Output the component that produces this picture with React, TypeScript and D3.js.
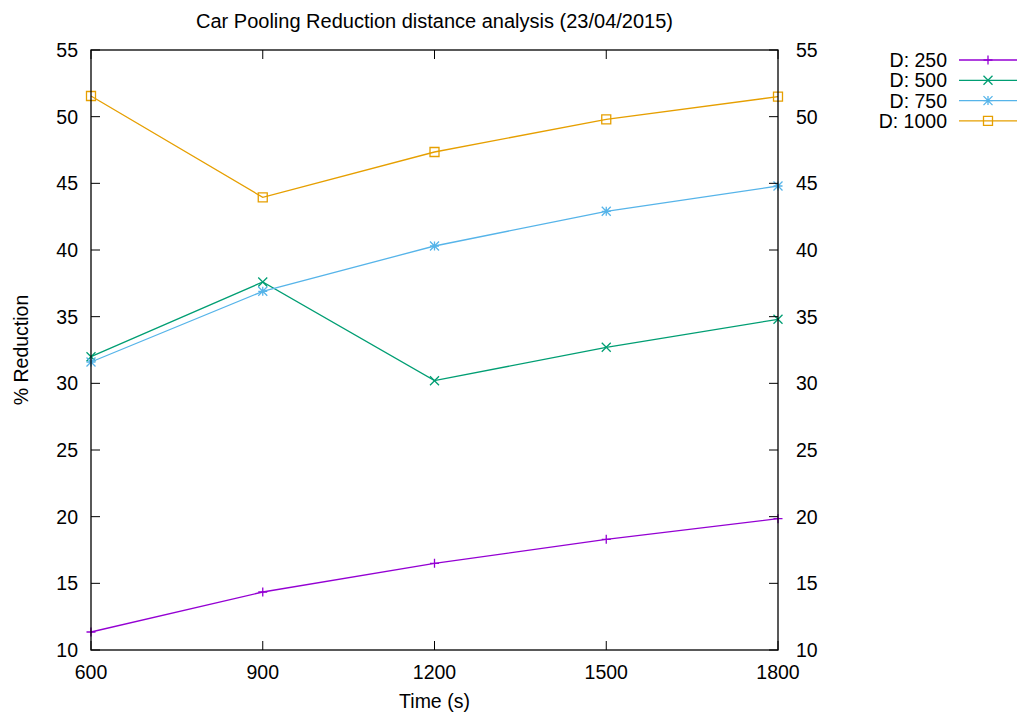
import React, { useEffect, useRef } from 'react';
import * as d3 from 'd3';

const times = [600, 900, 1200, 1500, 1800];
const d250 = [11.35, 14.35, 16.5, 18.3, 19.85];
const d500 = [32.0, 37.6, 30.2, 32.7, 34.8];
const d750 = [31.6, 36.9, 40.3, 42.9, 44.8];
const d1000 = [51.55, 43.95, 47.35, 49.8, 51.5];
const seriesNames = ['D: 250', 'D: 500', 'D: 750', 'D: 1000'];
const seriesColors = ['#9400d3', '#009e73', '#56b4e9', '#e69f00'];
const yTicks = [10, 15, 20, 25, 30, 35, 40, 45, 50, 55];

const W = 1019;
const H = 713;
const margin = { left: 91, right: 778, top: 50, bottom: 650 };
const FONT = '"Liberation Sans", Arial, sans-serif';

type Shape = 'plus' | 'cross' | 'star' | 'square';
const shapes: Shape[] = ['plus', 'cross', 'star', 'square'];

function markerPath(shape: Shape, x: number, y: number) {
  const s = 4.5;
  if (shape === 'plus') return `M${x - s},${y}H${x + s}M${x},${y - s}V${y + s}`;
  if (shape === 'cross') return `M${x - s},${y - s}L${x + s},${y + s}M${x - s},${y + s}L${x + s},${y - s}`;
  if (shape === 'star')
    return `M${x - s},${y}H${x + s}M${x},${y - s}V${y + s}M${x - s},${y - s}L${x + s},${y + s}M${x - s},${y + s}L${x + s},${y - s}`;
  return `M${x - s},${y - s}H${x + s}V${y + s}H${x - s}Z`;
}

export default function App() {
  const svgRef = useRef<SVGSVGElement>(null);

  useEffect(() => {
    const svg = d3.select(svgRef.current);
    svg.selectAll('*').remove();

    const x = d3.scaleLinear().domain([600, 1800]).range([margin.left, margin.right]);
    const y = d3.scaleLinear().domain([10, 55]).range([margin.bottom, margin.top]);

    svg.append('rect').attr('width', W).attr('height', H).attr('fill', 'white');

    const all = [d250, d500, d750, d1000];

    // series
    all.forEach((vals, i) => {
      const pts = vals.map((v, j) => [x(times[j]), y(v)] as [number, number]);
      svg
        .append('path')
        .attr('d', d3.line()(pts))
        .attr('fill', 'none')
        .attr('stroke', seriesColors[i])
        .attr('stroke-width', 1.3);
      pts.forEach(p => {
        svg
          .append('path')
          .attr('d', markerPath(shapes[i], p[0], p[1]))
          .attr('fill', 'none')
          .attr('stroke', seriesColors[i])
          .attr('stroke-width', 1.3);
      });
    });

    // ticks
    const tk = 9;
    const axis = svg.append('g').attr('stroke', 'black').attr('stroke-width', 1);
    yTicks.forEach(t => {
      axis.append('line').attr('x1', margin.left).attr('x2', margin.left + tk).attr('y1', y(t)).attr('y2', y(t));
      axis.append('line').attr('x1', margin.right).attr('x2', margin.right - tk).attr('y1', y(t)).attr('y2', y(t));
    });
    times.forEach(t => {
      axis.append('line').attr('x1', x(t)).attr('x2', x(t)).attr('y1', margin.bottom).attr('y2', margin.bottom - tk);
      axis.append('line').attr('x1', x(t)).attr('x2', x(t)).attr('y1', margin.top).attr('y2', margin.top + tk);
    });

    // border
    svg
      .append('rect')
      .attr('x', margin.left)
      .attr('y', margin.top)
      .attr('width', margin.right - margin.left)
      .attr('height', margin.bottom - margin.top)
      .attr('fill', 'none')
      .attr('stroke', 'black')
      .attr('stroke-width', 1.3);

    const text = svg.append('g').attr('font-family', FONT).attr('font-size', 19.5).attr('fill', 'black');

    yTicks.forEach(t => {
      text.append('text').attr('x', margin.left - 13).attr('y', y(t)).attr('dy', '0.36em').attr('text-anchor', 'end').text(t);
      text.append('text').attr('x', margin.right + 18).attr('y', y(t)).attr('dy', '0.36em').attr('text-anchor', 'start').text(t);
    });
    times.forEach(t => {
      text.append('text').attr('x', x(t)).attr('y', margin.bottom + 22).attr('dy', '0.36em').attr('text-anchor', 'middle').text(t);
    });

    text
      .append('text')
      .attr('x', (margin.left + margin.right) / 2)
      .attr('y', 21)
      .attr('dy', '0.36em')
      .attr('text-anchor', 'middle')
      .attr('font-size', 20)
      .text('Car Pooling Reduction distance analysis (23/04/2015)');
    text
      .append('text')
      .attr('x', (margin.left + margin.right) / 2)
      .attr('y', 701)
      .attr('dy', '0.36em')
      .attr('text-anchor', 'middle')
      .text('Time (s)');
    text
      .append('text')
      .attr('transform', `translate(21,${(margin.top + margin.bottom) / 2}) rotate(-90)`)
      .attr('dy', '0.36em')
      .attr('text-anchor', 'middle')
      .text('% Reduction');

    // legend
    seriesNames.forEach((name, i) => {
      const ly = 60 + i * 20.3;
      text.append('text').attr('x', 947).attr('y', ly).attr('dy', '0.36em').attr('text-anchor', 'end').text(name);
      svg
        .append('line')
        .attr('x1', 959)
        .attr('x2', 1017)
        .attr('y1', ly)
        .attr('y2', ly)
        .attr('stroke', seriesColors[i])
        .attr('stroke-width', 1.3);
      svg
        .append('path')
        .attr('d', markerPath(shapes[i], 988, ly))
        .attr('fill', 'none')
        .attr('stroke', seriesColors[i])
        .attr('stroke-width', 1.3);
    });
  }, []);

  return (
    <svg
      ref={svgRef}
      width={W}
      height={H}
      style={{ position: 'absolute', left: 0, top: 0, display: 'block' }}
    />
  );
}
